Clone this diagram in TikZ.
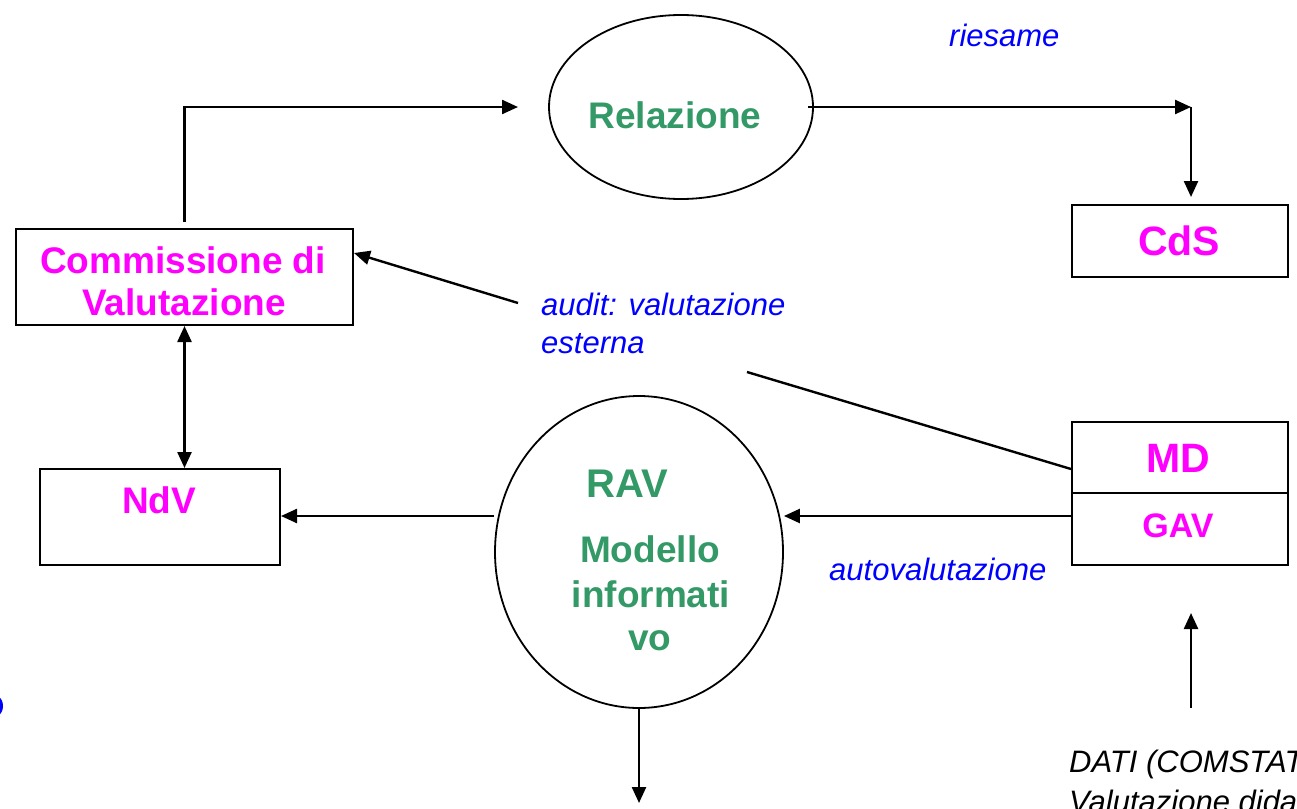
\documentclass[tikz,border=0pt]{standalone}
\usepackage{fontspec}
\setmainfont{Liberation Sans}
\usetikzlibrary{arrows.meta,shapes.geometric}
\definecolor{mag}{RGB}{255,0,255}
\definecolor{grn}{RGB}{51,153,102}
\definecolor{blu}{RGB}{0,0,255}
\begin{document}
\begin{tikzpicture}[x=1pt,y=-1pt,line width=2.4pt,
  box/.style={draw,line width=2pt,rectangle,inner sep=0pt,anchor=north west},
  oval/.style={draw,ellipse,line width=1.8pt,inner sep=0pt},
  mlab/.style={anchor=base,inner sep=0pt,text=mag,font=\fontsize{37}{44}\selectfont\bfseries},
  glab/.style={anchor=base,inner sep=0pt,text=grn,font=\fontsize{37}{44}\selectfont\bfseries},
  note/.style={anchor=base west,inner sep=0pt,text=blu,font=\fontsize{31}{38}\selectfont\itshape},
  dnote/.style={anchor=base west,inner sep=0pt,text=black,font=\fontsize{31}{38}\selectfont\itshape},
  tip/.style={-{Triangle[length=16pt,width=14pt]}},
  dtip/.style={{Triangle[length=16pt,width=14pt]}-{Triangle[length=16pt,width=14pt]}}]
\useasboundingbox (0,0) rectangle (1297,808);

% blue blob at left edge
\fill[blu] (-11,706) circle (14);

% shapes
\node[box,minimum width=337pt,minimum height=96pt] (cdv) at (15,228) {};
\node[box,minimum width=216pt,minimum height=72pt] (cds) at (1071,204) {};
\node[box,minimum width=240pt,minimum height=96pt] (ndv) at (39,468) {};
\node[box,minimum width=216pt,minimum height=71pt] (md) at (1071,421) {};
\node[box,minimum width=216pt,minimum height=72pt] (gav) at (1071,492) {};
\node[oval,minimum width=264pt,minimum height=184pt] (rel) at (681,107) {};
\node[oval,minimum width=288pt,minimum height=312pt] (rav) at (639,552) {};

% texts
\node[glab] (trel) at (675,128) {Relazione};
\node[mlab,font=\fontsize{41}{48}\selectfont\bfseries] (tcds) at (1179,255) {CdS};
\node[mlab] (tcdv1) at (183,273) {Commissione di};
\node[mlab] (tcdv2) at (184,315) {Valutazione};
\node[mlab] (tndv) at (159,513) {NdV};
\node[mlab,font=\fontsize{41}{48}\selectfont\bfseries] (tmd) at (1178,472) {MD};
\node[mlab,font=\fontsize{34}{40}\selectfont\bfseries] (tgav) at (1178,537) {GAV};
\node[glab,font=\fontsize{40}{48}\selectfont\bfseries] (trav) at (627,497) {RAV};
\node[glab] (tmod1) at (650,562) {Modello};
\node[glab] (tmod2) at (651,607) {informati};
\node[glab] (tmod3) at (650,650) {vo};
\node[note] (triesame) at (948,47) {riesame};
\node[note] (taudit1) at (540,315) {audit: valutazione};
\node[note] (taudit2) at (540,353) {esterna};
\node[note] (tauto) at (828,580) {autovalutazione};
\node[dnote] (tdati1) at (1068,772) {DATI (COMSTAT};
\node[dnote] (tdati2) at (1068,812) {Valutazione dida};

% coordinates
\coordinate (a1) at (518,107);
\coordinate (c1) at (1191,107);
\path (c1 |- cds.north) coordinate (c2);
\coordinate (g1) at (747,372);
\coordinate (g2) at (518,303);
\coordinate (h) at (0,516);
\coordinate (b1) at (639,803);
\coordinate (d1) at (1191,708);
\coordinate (d2) at (1191,613);

% connectors
\draw[tip] ([yshift=6pt]cdv.north) |- (a1);
\draw[tip] ([xshift=-6pt]rel.east) -- (c1);
\draw[tip] (c1) -- ([yshift=7pt]c2);
\draw ([yshift=-11.5pt]md.west) -- (g1);
\draw[tip] (g2) -- ([yshift=24pt]cdv.east);
\draw[dtip] (cdv.south) -- (cdv.south |- ndv.north);
\draw[tip] (rav.west |- h) -- (ndv.east |- h);
\draw[tip] (gav.west |- h) -- (rav.east |- h);
\draw[tip] (rav.south) -- (b1);
\draw[tip] (d1) -- (d2);
\end{tikzpicture}
\end{document}
